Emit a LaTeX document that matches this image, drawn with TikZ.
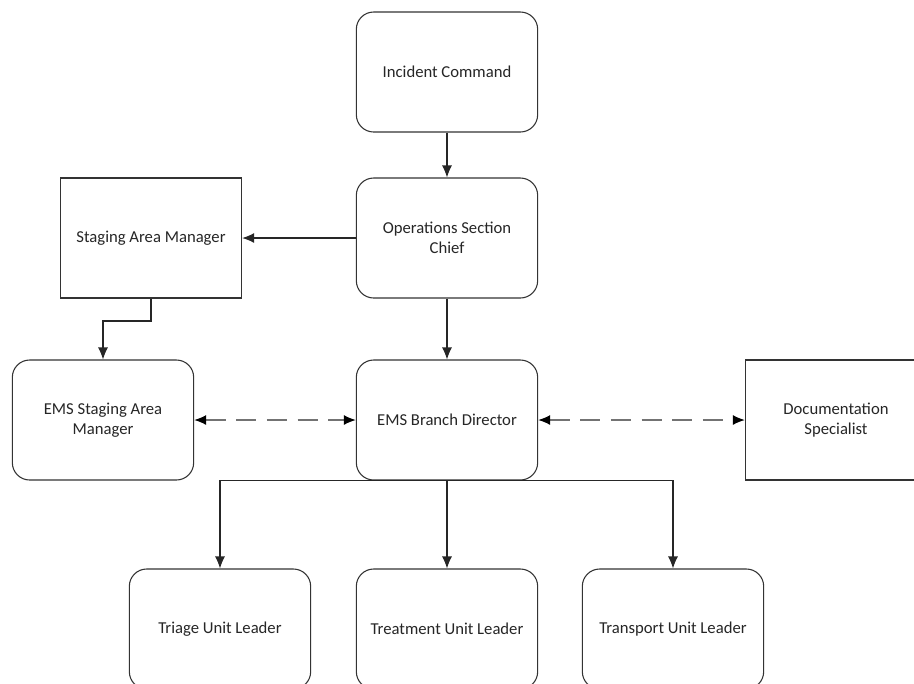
\documentclass[tikz,border=0pt]{standalone}
\usepackage{fontspec}
\setmainfont{Carlito}
\usetikzlibrary{arrows.meta}
\tikzset{
    rbox/.style={draw=black!80,line width=0.8pt,rounded corners=13pt,minimum width=136pt,minimum height=90pt,align=center,text=black!85,font=\fontsize{12.5}{15}\selectfont},
    sbox/.style={rbox,rounded corners=0pt},
    link/.style={draw=black!85,line width=0.8pt,-{Latex[length=9pt,width=7.5pt]}},
    dlink/.style={draw=black!55,line width=0.9pt,dash pattern=on 15pt off 8pt,{Latex[length=9pt,width=7.5pt,color=black]}-{Latex[length=9pt,width=7.5pt,color=black]}}
}
\begin{document}
\begin{tikzpicture}[x=0.75pt,y=-0.75pt]
                \clip (0,0) rectangle (914,683);
                \fill[white] (0,0) rectangle (914,683);
                %NODE
                \node[rbox] (IC) at (447,72){Incident Command};
                \node[rbox] (OSC) at (447,238){Operations Section\\Chief};
                \node[sbox] (SAM) at (151,238){Staging Area Manager};
                \node[rbox] (ESAM) at (103,420){EMS Staging Area\\Manager};
                \node[rbox] (EBD) at (447,420){EMS Branch Director};
                \node[sbox] (DS) at (836,420){Documentation\\Specialist};
                \node[rbox] (TRI) at (220,629){Triage Unit Leader};
                \node[rbox] (TRE) at (447,629){Treatment Unit Leader};
                \node[rbox] (TRA) at (673,629){Transport Unit Leader};
                \coordinate (bend) at (151,321);
                
                %EDGE
                \draw[link] (IC) -- (OSC);
                \draw[link] (OSC) -- (SAM);
                \draw[link] (SAM) -- (bend) -| (ESAM);
                \draw[link] (OSC) -- (EBD);
                \draw[dlink] (ESAM) -- (EBD);
                \draw[dlink] (EBD) -- (DS);
                \draw[link] (EBD.south) -| (TRI);
                \draw[link] (EBD.south) -- (TRE);
                \draw[link] (EBD.south) -| (TRA);
            \end{tikzpicture}
\end{document}
